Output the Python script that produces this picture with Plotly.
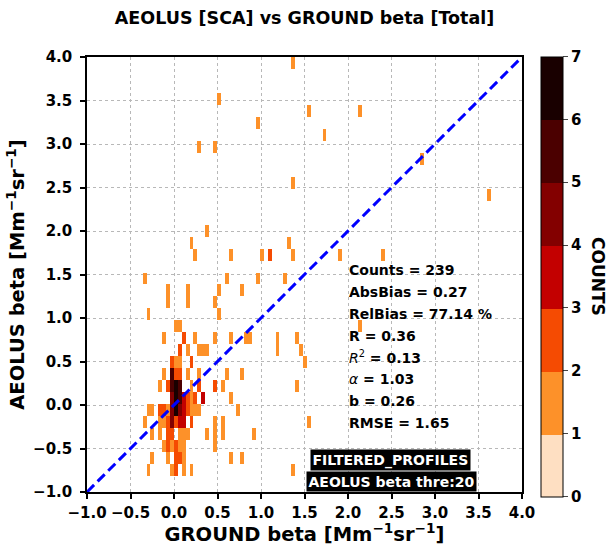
import numpy as np
import plotly.graph_objects as go

# ---------------- data ----------------
# occupied 2D-histogram cells: x centre, y centre, count
cell_x = [
    1.37,                                   # y 3.93
    0.53,                                   # y 3.52
    1.53, 2.13,                             # y 3.38
    0.97,                                   # y 3.24
    1.74,                                   # y 3.11
    0.28, 0.46,                             # y 2.97
    2.85,                                   # y 2.83
    1.37,                                   # y 2.56
    3.62,                                   # y 2.42
    0.37,                                   # y 2.01
    0.20, 1.33,                             # y 1.87
    0.25, 0.65, 1.01, 1.09, 1.37, 1.90, 2.42,   # y 1.73
    -0.32, 0.61, 0.97, 1.29,                # y 1.46
    -0.07, 0.16, 0.50, 0.77,                # y 1.32
    -0.07, 0.16, 0.46,                      # y 1.18
    -0.28, 0.50,                            # y 1.04
    0.02, 0.07, 2.13,                       # y 0.91
    -0.11, 0.10, 0.25, 0.46, 0.65, 0.85, 0.89, 1.21, 1.41,   # y 0.77
    0.05, 0.16, 0.29, 0.34, 0.38, 1.18, 1.45,                # y 0.63
    -0.02, 0.02, 0.07, 0.21, 1.52,                           # y 0.49
    -0.11, -0.02, 0.02, 0.07, 0.16, 0.29, 0.62, 0.77,        # y 0.36
    -0.16, -0.07, -0.02, 0.02, 0.07, 0.19, 0.31, 0.46, 0.56, 1.41,   # y 0.22
    -0.02, 0.02, 0.07, 0.11, 0.16, 0.20, 0.25, 0.33, 0.65,           # y 0.08
    -0.30, -0.25, -0.16, -0.11, -0.07, -0.02, 0.02, 0.07, 0.11, 0.16, 0.21, 0.25, 0.29, 0.74,  # y -0.06
    -0.35, -0.16, -0.11, -0.07, -0.02, 0.02, 0.07, 0.11, 0.20, 0.46, 0.55, 1.57,  # y -0.19
    -0.24, -0.15, -0.07, -0.02, 0.05, 0.10, 0.14, 0.36, 0.47, 0.55, 0.92,       # y -0.33
    -0.11, -0.07, -0.02, 0.02, 0.07, 0.11, 0.49,             # y -0.47
    -0.24, -0.07, 0.02, 0.07, 0.11, 0.65, 0.77,              # y -0.61
    -0.28, -0.03, 0.03, 0.11, 0.20, 1.37,                    # y -0.74
]
cell_y = (
    [3.93] + [3.52] + [3.38] * 2 + [3.24] + [3.11] + [2.97] * 2 + [2.83]
    + [2.56] + [2.42] + [2.01] + [1.87] * 2 + [1.73] * 7 + [1.46] * 4
    + [1.32] * 4 + [1.18] * 3 + [1.04] * 2 + [0.91] * 3 + [0.77] * 9
    + [0.63] * 7 + [0.49] * 5 + [0.36] * 8 + [0.22] * 10 + [0.08] * 9
    + [-0.06] * 14 + [-0.19] * 12 + [-0.33] * 11 + [-0.47] * 7
    + [-0.61] * 7 + [-0.74] * 6
)
cell_n = [
    1,
    1,
    1, 1,
    1,
    1,
    1, 1,
    1,
    1,
    1,
    1,
    1, 1,
    1, 1, 1, 2, 1, 1, 1,
    1, 1, 1, 1,
    1, 1, 1, 1,
    1, 1, 1,
    1, 1,
    1, 1, 1,
    1, 2, 1, 1, 1, 1, 1, 1, 1,
    2, 1, 1, 1, 1, 1, 1,
    2, 1, 1, 2, 1,
    1, 5, 2, 2, 1, 1, 1, 1,
    1, 2, 5, 7, 5, 1, 2, 2, 1, 1,
    4, 7, 5, 3, 2, 1, 2, 3, 1,
    1, 1, 2, 2, 1, 4, 6, 4, 3, 2, 1, 1, 1, 1,
    1, 1, 1, 2, 4, 2, 3, 3, 2, 1, 1, 1,
    1, 1, 2, 2, 1, 1, 1, 1, 1, 1, 1,
    1, 2, 1, 2, 1, 1, 1,
    1, 1, 2, 2, 1, 1, 1,
    1, 1, 2, 1, 1, 1,
]

count_levels = [0, 1, 2, 3, 4, 5, 6, 7]
band_colors = ["#fedfc2", "#fd9129", "#f54b02", "#c30000", "#830000", "#4b0000", "#190000"]

stats_lines = [
    "<b>Counts = 239</b>",
    "<b>AbsBias = 0.27</b>",
    "<b>RelBias = 77.14 %</b>",
    "<b>R = 0.36</b>",
    "<i>R</i><sup>2</sup><b> = 0.13</b>",
    "<i>α</i><b> = 1.03</b>",
    "<b>b = 0.26</b>",
    "<b>RMSE = 1.65</b>",
]
box_labels = ["FILTERED_PROFILES", "AEOLUS beta thre:20"]
one_to_one = [-1.0, 4.0]

# ---------------- binning grid ----------------
dx, dy = 0.045, 0.1375
x_left, y_bottom = -0.99, -0.95
nx, ny = 112, 36
z = np.full((ny, nx), np.nan)
for xv, yv, nv in zip(cell_x, cell_y, cell_n):
    j = int(np.floor((xv - x_left) / dx))
    r = int(np.floor((yv - y_bottom) / dy))
    z[r, j] = nv

# discrete colour scale (count c drawn with band [c, c+1))
eps = 0.01
cs = []
nb = len(band_colors)
for i, c in enumerate(band_colors):
    lo = 0.0 if i == 0 else (i - eps) / nb
    hi = 1.0 if i == nb - 1 else (i + 1 - eps) / nb
    cs += [[lo, c], [hi, c]]

W, H = 611, 546
L, R, T, B = 87, 89, 57, 54
pw, ph = W - L - R, H - T - B


def px(xp):
    return (xp - L) / pw


def py(yp):
    return (H - B - yp) / ph


FONT = "DejaVu Sans"

fig = go.Figure()
fig.add_trace(go.Heatmap(
    z=z, x0=x_left + dx / 2, dx=dx, y0=y_bottom + dy / 2, dy=dy,
    zmin=count_levels[0], zmax=count_levels[-1], colorscale=cs,
    hoverongaps=False,
    colorbar=dict(
        thickness=22, thicknessmode="pixels",
        len=440, lenmode="pixels",
        x=px(541), xanchor="left", xpad=0,
        y=py(276.5), yanchor="middle", ypad=0,
        tickvals=count_levels, ticks="outside", ticklen=5, tickwidth=1.2,
        tickfont=dict(family=FONT, size=15, color="black", weight="bold"),
        outlinewidth=1, outlinecolor="black",
    ),
))
fig.add_trace(go.Scatter(
    x=one_to_one, y=one_to_one, mode="lines",
    line=dict(color="#0000ff", width=3, dash="10px,5px"),
    showlegend=False, hoverinfo="skip",
))

axis_common = dict(
    range=[-1, 4], dtick=0.5, tick0=-1, tickformat=".1f",
    showgrid=True, gridcolor="#b8b8b8", griddash="dot", gridwidth=1,
    zeroline=False, showline=True, linecolor="black", linewidth=1.5, mirror=True,
    ticks="outside", ticklen=5, tickwidth=1.5, tickcolor="black",
    tickfont=dict(family=FONT, size=15, color="black", weight="bold"),
)
fig.update_xaxes(**axis_common, ticklabelstandoff=1, title=dict(
    text="GROUND beta [Mm<sup>−1</sup>sr<sup>−1</sup>]", standoff=5,
    font=dict(family=FONT, size=19.5, color="black", weight="bold")))
fig.update_yaxes(**axis_common, ticklabelstandoff=5, title=dict(
    text="AEOLUS beta [Mm<sup>−1</sup>sr<sup>−1</sup>]", standoff=3,
    font=dict(family=FONT, size=19.5, color="black", weight="bold")))

stat_y = [270, 292, 314, 335.5, 357, 379, 401, 422.5]
for txt, yy in zip(stats_lines, stat_y):
    fig.add_annotation(x=px(347), y=py(yy), xref="paper", yref="paper",
                       text=txt, showarrow=False, xanchor="left", yanchor="middle",
                       font=dict(family=FONT, size=14, color="black"))

for txt, xx, yy in zip(box_labels, [390.5, 391], [460, 481.5]):
    fig.add_annotation(x=px(xx), y=py(yy), xref="paper", yref="paper",
                       text=txt, showarrow=False, xanchor="center", yanchor="middle",
                       bgcolor="black", borderpad=1.5,
                       font=dict(family=FONT, size=14, color="white", weight="bold"))

fig.add_annotation(x=px(598), y=py(276), xref="paper", yref="paper",
                   text="COUNTS", showarrow=False, textangle=90,
                   xanchor="center", yanchor="middle",
                   font=dict(family=FONT, size=17, color="black", weight="bold"))

fig.update_layout(
    width=W, height=H,
    margin=dict(l=L, r=R, t=T, b=B, autoexpand=False),
    paper_bgcolor="white", plot_bgcolor="white",
    showlegend=False,
    title=dict(text="AEOLUS [SCA] vs GROUND beta [Total]", x=0.5, xref="paper",
               y=1 - 18 / H, yref="container", xanchor="center", yanchor="middle",
               font=dict(family=FONT, size=17.5, color="black", weight="bold")),
)

fig.write_html("out.html", config={"displayModeBar": False},
               post_script="document.body.style.margin='0px';document.body.style.overflow='hidden';")
